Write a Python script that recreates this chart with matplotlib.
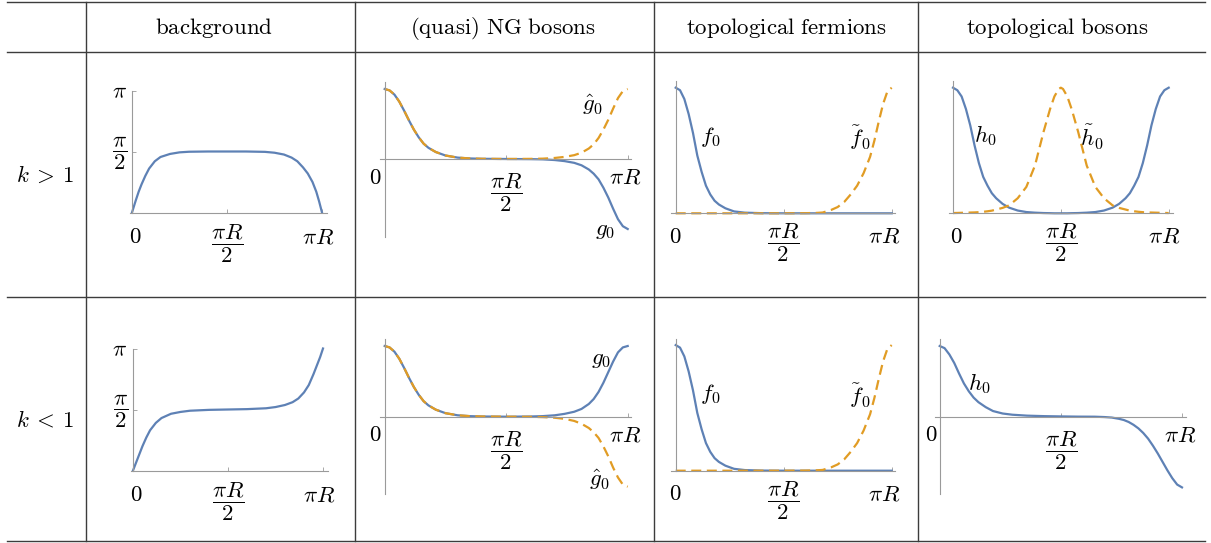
import matplotlib
matplotlib.use("Agg")
import matplotlib.pyplot as plt
from matplotlib.lines import Line2D
from matplotlib.transforms import offset_copy

plt.rcParams['mathtext.fontset'] = 'cm'

W, H = 1211, 543
BLUE = '#5e81b5'
ORANGE = '#e19c24'
AXIS = '#9a9a9a'
RULE = '#3c3c3c'
FS = 16.5  # tick / curve label size

# ---- data (x in units of pi*R) ----
col_titles = [r'$\mathrm{background}$', r'$\mathrm{(quasi)\ NG\ bosons}$',
              r'$\mathrm{topological\ fermions}$', r'$\mathrm{topological\ bosons}$']
row_titles = [r'$k\:>\:1$', r'$k\:<\:1$']

# background (values in units of pi)
x_bg = [0, .01, .02, .035, .05, .07, .09, .12, .15, .2, .25, .3, .4, .5, .6,
        .7, .75, .8, .84, .87, .9, .925, .95, .97, .985, 1]
bg_hi = [0, .05, .10, .17, .23, .30, .36, .42, .455, .48, .493, .498, .5, .5, .5,
         .497, .49, .475, .45, .42, .37, .32, .25, .17, .09, 0]
bg_lo = [0, .04, .08, .14, .20, .27, .33, .39, .43, .465, .48, .49, .497, .5, .503,
         .51, .52, .537, .56, .59, .64, .70, .79, .87, .93, 1.0]

# (quasi) NG bosons
x_ng = [0, .02, .04, .06, .08, .10, .12, .14, .16, .18, .21, .25, .3, .35, .4,
        .5, .6, .65, .7, .74, .78, .81, .84, .86, .88, .9, .92, .94, .96, .98, 1]
ghat_hi = [1, .98, .92, .82, .69, .55, .42, .31, .22, .16, .10, .05, .02, .008, .003,
           0, .002, .005, .015, .03, .055, .09, .15, .21, .30, .42, .56, .72, .87, .97, 1]
g0_hi = [1, .98, .92, .82, .69, .55, .42, .31, .22, .16, .10, .05, .02, .008, .003,
         0, -.002, -.005, -.015, -.03, -.055, -.09, -.15, -.21, -.29, -.41, -.55, -.71, -.86, -.96, -1]
g0_lo = [1, .98, .92, .82, .69, .55, .42, .31, .22, .16, .10, .05, .02, .008, .003,
         0, .003, .008, .02, .04, .07, .11, .18, .25, .35, .48, .63, .78, .91, .98, 1]
ghat_lo = [1, .98, .92, .82, .69, .55, .42, .31, .22, .16, .10, .05, .02, .008, .003,
           0, -.002, -.006, -.015, -.03, -.06, -.10, -.16, -.22, -.30, -.42, -.56, -.72, -.86, -.96, -.99]

# topological fermions
x_f = [0, .02, .04, .06, .08, .10, .12, .14, .16, .18, .2, .23, .27, .32, .4,
       .5, .6, .65, .68, .72, .75, .78, .81, .84, .87, .9, .92, .94, .96, .98, 1]
f0 = [1, .98, .91, .79, .64, .46, .33, .22, .15, .10, .07, .04, .015, .005, .001,
      0, 0, 0, 0, 0, 0, 0, 0, 0, 0, 0, 0, 0, 0, 0, 0]
f0t = [0, 0, 0, 0, 0, 0, 0, 0, 0, 0, 0, 0, 0, 0, 0,
       0, .001, .003, .006, .027, .05, .09, .15, .22, .32, .45, .58, .73, .87, .97, 1]

# topological bosons, k > 1
x_b = [0, .02, .04, .06, .08, .10, .12, .14, .16, .18, .2, .23, .26, .3, .34, .38, .42,
       .45, .47, .49, .5, .51, .53, .55, .58, .62, .66, .7, .74, .77, .8, .82, .84,
       .86, .88, .9, .92, .94, .96, .98, 1]
h0_hi = [1, .98, .93, .83, .70, .54, .40, .29, .22, .16, .12, .075, .045, .022, .01, .005, .002,
         .001, 0, 0, 0, 0, 0, .001, .002, .005, .01, .022, .045, .075, .12, .16, .22,
         .29, .40, .54, .70, .83, .93, .98, 1]
h0t_hi = [.002, .003, .004, .005, .006, .007, .009, .012, .016, .021, .03, .043, .063, .12, .21, .38, .65,
          .83, .93, .99, 1, .99, .93, .83, .65, .38, .21, .12, .063, .043, .03, .021, .016,
          .012, .009, .007, .006, .005, .004, .003, .002]

# topological bosons, k < 1
x_bl = [0, .02, .04, .06, .08, .10, .12, .14, .16, .19, .22, .26, .3, .36, .43, .5, .57,
        .64, .68, .71, .74, .76, .78, .8, .82, .84, .86, .88, .9, .92, .94, .96, .98, 1]
h0_lo = [1, .97, .88, .76, .61, .47, .36, .27, .205, .135, .08, .045, .028, .015, .008, .004, .001,
         0, -.005, -.012, -.03, -.047, -.075, -.115, -.165, -.23, -.31, -.41, -.52, -.64, -.76, -.87, -.96, -1]

fig = plt.figure(figsize=(W / 100, H / 100), dpi=100)


def rule(x0, y0, x1, y1, lw=1.0):
    fig.add_artist(Line2D([x0 / W, x1 / W], [1 - y0 / H, 1 - y1 / H], color=RULE, lw=lw))


def panel(cell, x0, x1, yz, scale, ybounds, xbounds):
    cl, ct, cr, cb = cell
    ax = fig.add_axes([cl / W, 1 - cb / H, (cr - cl) / W, (cb - ct) / H])
    ax.set_xlim((cl - x0) / (x1 - x0), (cr - x0) / (x1 - x0))
    ax.set_ylim((yz - cb) / scale, (yz - ct) / scale)
    ax.patch.set_visible(False)
    for s in ['top', 'right']:
        ax.spines[s].set_visible(False)
    for s in ['left', 'bottom']:
        ax.spines[s].set_position(('data', 0))
        ax.spines[s].set_color(AXIS)
        ax.spines[s].set_linewidth(0.8)
    ax.spines['left'].set_bounds(*ybounds)
    ax.spines['bottom'].set_bounds(*xbounds)
    ax.set_xticks([0.5, 1])
    ax.set_xticklabels([])
    ax.set_yticks([])
    ax.tick_params(direction='in', length=3, width=0.6, color=AXIS)
    return ax


def lab(ax, x, y, s, dx=0, dy=0, size=FS, ha='center'):
    tr = offset_copy(ax.transData, fig=fig, x=dx, y=-dy, units='dots')
    ax.text(x, y, s, transform=tr, ha=ha, va='center', fontsize=size)


def xlabels(ax, zero_dx, lab_dy, frac_dy, end_dx=-4):
    lab(ax, 0, 0, r'$0$', dx=zero_dx, dy=lab_dy)
    lab(ax, 0.5, 0, r'$\dfrac{\pi R}{2}$', dy=frac_dy)
    lab(ax, 1, 0, r'$\pi R$', dx=end_dx, dy=lab_dy)


def plot_curve(ax, x, y, dashed=False):
    if dashed:
        ax.plot(x, y, color=ORANGE, lw=1.6, dashes=(4.5, 2.5))
    else:
        ax.plot(x, y, color=BLUE, lw=1.6)


# ---- table rules ----
for y in [2, 52, 297, 541]:
    rule(7, y, 1205, y)
for x in [86, 355, 654, 918]:
    rule(x, 2, x, 541)

# ---- headers ----
head_x = [214, 503, 786, 1057]
for hx, t in zip(head_x, col_titles):
    fig.text(hx / W, 1 - 28 / H, t, ha='center', va='center', fontsize=16.5)
for ry, t in zip([175, 420], row_titles):
    fig.text(45 / W, 1 - ry / H, t, ha='center', va='center', fontsize=16.5)

# ---- background ----
for row, (yb, cell, yz, x0) in enumerate([
        (bg_hi, (87, 53, 354, 296), 212.5, 132),
        (bg_lo, (87, 298, 354, 540), 470.5, 133)]):
    ax = panel(cell, x0, x0 + 190, yz, 122, (0, 1), (-0.012, 1.025))
    ax.set_yticks([0.5, 1])
    ax.set_yticklabels([])
    plot_curve(ax, x_bg, yb)
    xlabels(ax, 3, 24, 31)
    lab(ax, 0, 1, r'$\pi$', dx=-13, dy=1.5)
    lab(ax, 0, 0.5, r'$\dfrac{\pi}{2}$', dx=-12, dy=1.5)

# ---- (quasi) NG bosons ----
ax = panel((356, 53, 653, 296), 384.7, 627.7, 159, 70, (-1.11, 1.1), (-0.02, 1.014))
plot_curve(ax, x_ng, g0_hi)
plot_curve(ax, x_ng, ghat_hi, dashed=True)
xlabels(ax, -9, 18, 34, end_dx=-3)
lab(ax, 0.857, 0.77, r'$\hat{g}_0$')
lab(ax, 0.907, -1.01, r'$g_0$')

ax = panel((356, 298, 653, 540), 384.7, 627.7, 416.7, 70.7, (-1.09, 1.1), (-0.02, 1.014))
plot_curve(ax, x_ng, g0_lo)
plot_curve(ax, x_ng, ghat_lo, dashed=True)
xlabels(ax, -9, 18, 34, end_dx=-3)
lab(ax, 0.89, 0.83, r'$g_0$')
lab(ax, 0.886, -0.9, r'$\hat{g}_0$')

# ---- topological fermions ----
for cell, yz in [((655, 53, 917, 296), 213.3), ((655, 298, 917, 540), 470.7)]:
    ax = panel(cell, 675.7, 891.7, yz, 125.6, (0, 1.05), (-0.022, 1.015))
    plot_curve(ax, x_f, f0)
    plot_curve(ax, x_f, f0t, dashed=True)
    xlabels(ax, 0, 23, 30, end_dx=-8)
    lab(ax, 0.158, 0.61, r'$f_0$')
    lab(ax, 0.853, 0.60, r'$\tilde{f}_0$')

# ---- topological bosons ----
ax = panel((919, 53, 1205, 296), 953, 1168.7, 213.3, 125.6, (0, 1.05), (-0.02, 1.02))
plot_curve(ax, x_b, h0_hi)
plot_curve(ax, x_b, h0t_hi, dashed=True)
xlabels(ax, 3, 23, 30, end_dx=-5)
lab(ax, 0.152, 0.62, r'$h_0$')
lab(ax, 0.645, 0.605, r'$\tilde{h}_0$')

ax = panel((919, 298, 1205, 540), 939.7, 1182, 416.7, 70.7, (-1.09, 1.1), (-0.02, 1.017))
plot_curve(ax, x_bl, h0_lo)
xlabels(ax, -8, 18, 34, end_dx=-2)
lab(ax, 0.165, 0.47, r'$h_0$')

fig.savefig('out.png', dpi=100)
